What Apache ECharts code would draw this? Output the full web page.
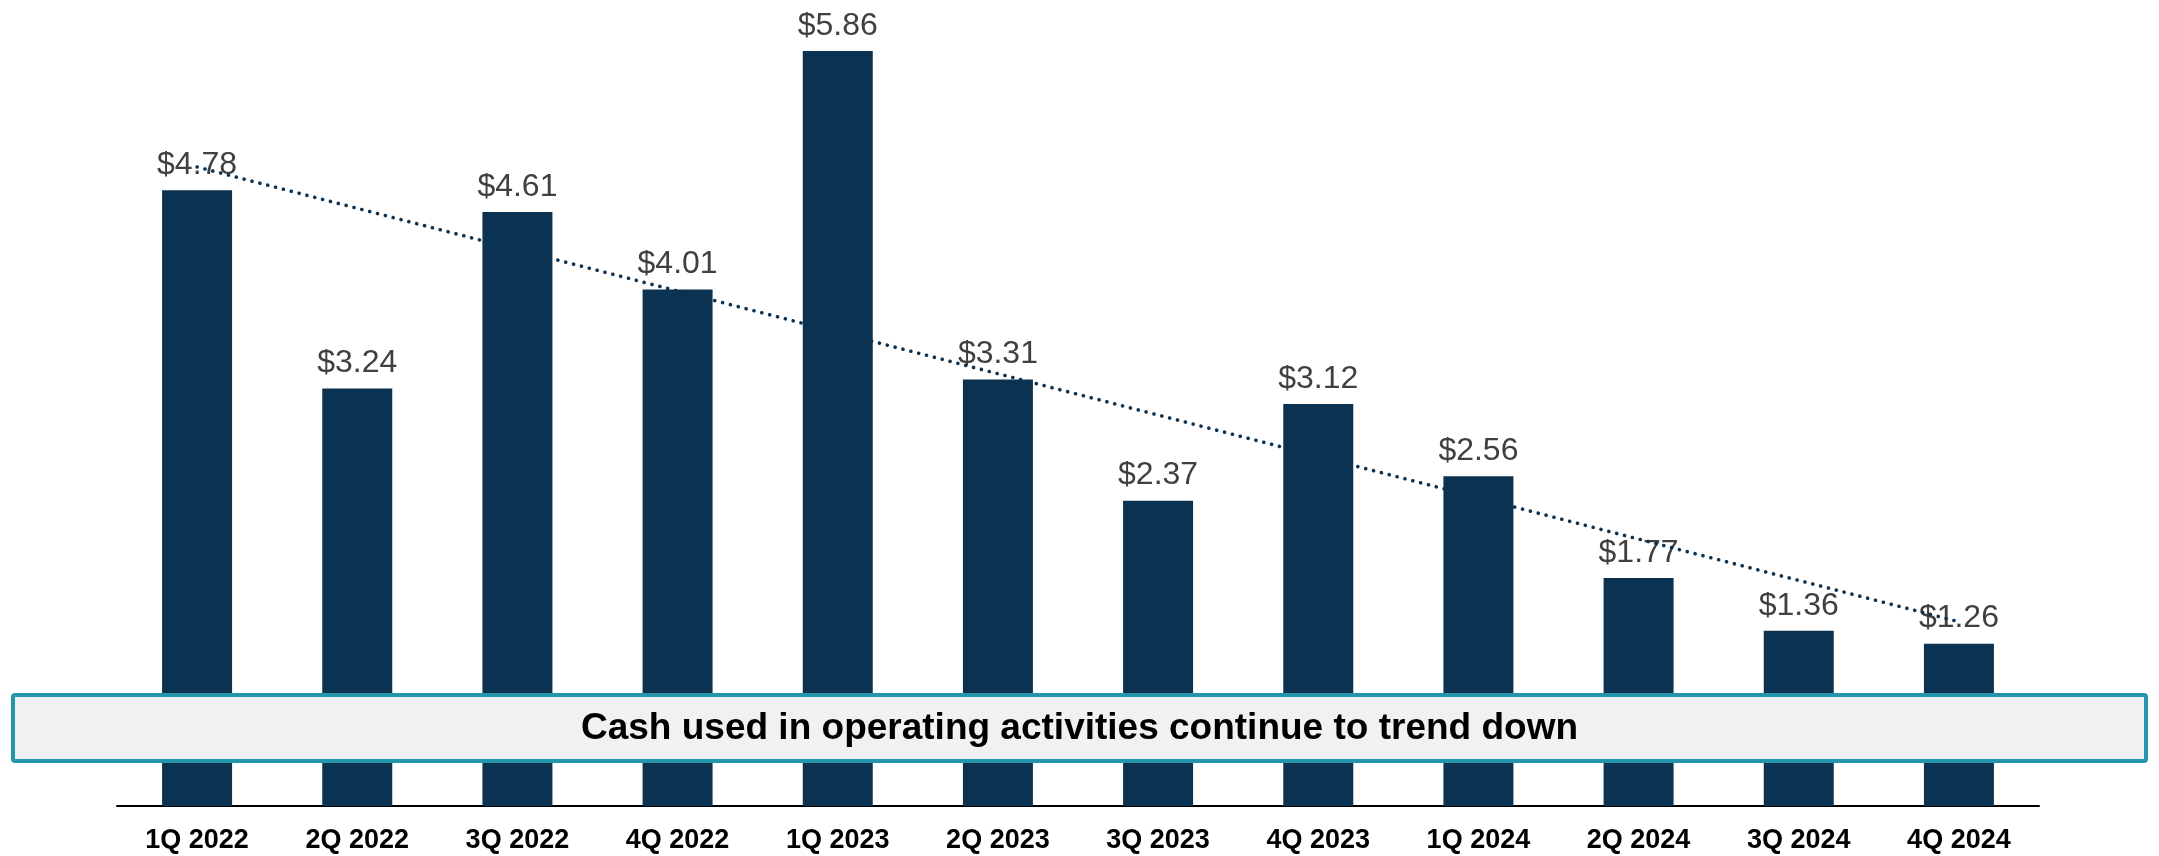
<!DOCTYPE html>
<html>
<head>
<meta charset="utf-8">
<script src="https://cdn.jsdelivr.net/npm/echarts@6/dist/echarts.min.js"></script>
<style>
html,body{margin:0;padding:0;background:#fff;}
#chart{width:2159px;height:856px;}
</style>
</head>
<body>
<div id="chart"></div>
<script>
var categories = ['1Q 2022','2Q 2022','3Q 2022','4Q 2022','1Q 2023','2Q 2023','3Q 2023','4Q 2023','1Q 2024','2Q 2024','3Q 2024','4Q 2024'];
var cashUsed = [4.78, 3.24, 4.61, 4.01, 5.86, 3.31, 2.37, 3.12, 2.56, 1.77, 1.36, 1.26];
var trendCategories = ['1Q 2022', '4Q 2024'];
var trendValues = [4.96, 1.43];
var bannerText = 'Cash used in operating activities continue to trend down';

var chart = echarts.init(document.getElementById('chart'), null, {renderer: 'canvas'});
var trendData = trendCategories.map(function (c, i) { return [c, trendValues[i]]; });

chart.setOption({
  animation: false,
  backgroundColor: '#ffffff',
  grid: {left: 117, right: 120, top: 33, bottom: 50},
  xAxis: {
    type: 'category',
    data: categories,
    axisLine: {show: true, lineStyle: {color: '#000000', width: 2}},
    axisTick: {show: false},
    axisLabel: {
      color: '#000000',
      fontFamily: 'Liberation Sans, Arial, sans-serif',
      fontWeight: 'bold',
      fontSize: 27,
      margin: 21
    }
  },
  yAxis: {
    type: 'value',
    min: 0,
    max: 6,
    show: false,
    splitLine: {show: false}
  },
  series: [
    {
      type: 'bar',
      data: cashUsed,
      barWidth: 70,
      itemStyle: {color: '#0c3251'},
      label: {
        show: true,
        position: 'top',
        distance: 9,
        color: '#404040',
        fontFamily: 'Liberation Sans, Arial, sans-serif',
        fontSize: 32,
        formatter: function (p) { return '$' + p.value.toFixed(2); }
      },
      z: 2
    },
    {
      type: 'line',
      data: trendData,
      symbol: 'none',
      lineStyle: {color: '#0c3251', width: 3.6, type: [0.1, 8], cap: 'round'},
      z: 3
    }
  ],
  graphic: [
    {
      type: 'rect',
      z: 100,
      shape: {x: 13, y: 695, width: 2133, height: 66, r: 2},
      style: {fill: '#f1f1f1', stroke: '#2396ab', lineWidth: 4}
    },
    {
      type: 'text',
      z: 101,
      x: 1079.5,
      y: 729,
      style: {
        text: bannerText,
        fill: '#000000',
        font: 'bold 37px "Liberation Sans", Arial, sans-serif',
        align: 'center',
        verticalAlign: 'middle'
      }
    }
  ]
});
</script>
</body>
</html>
